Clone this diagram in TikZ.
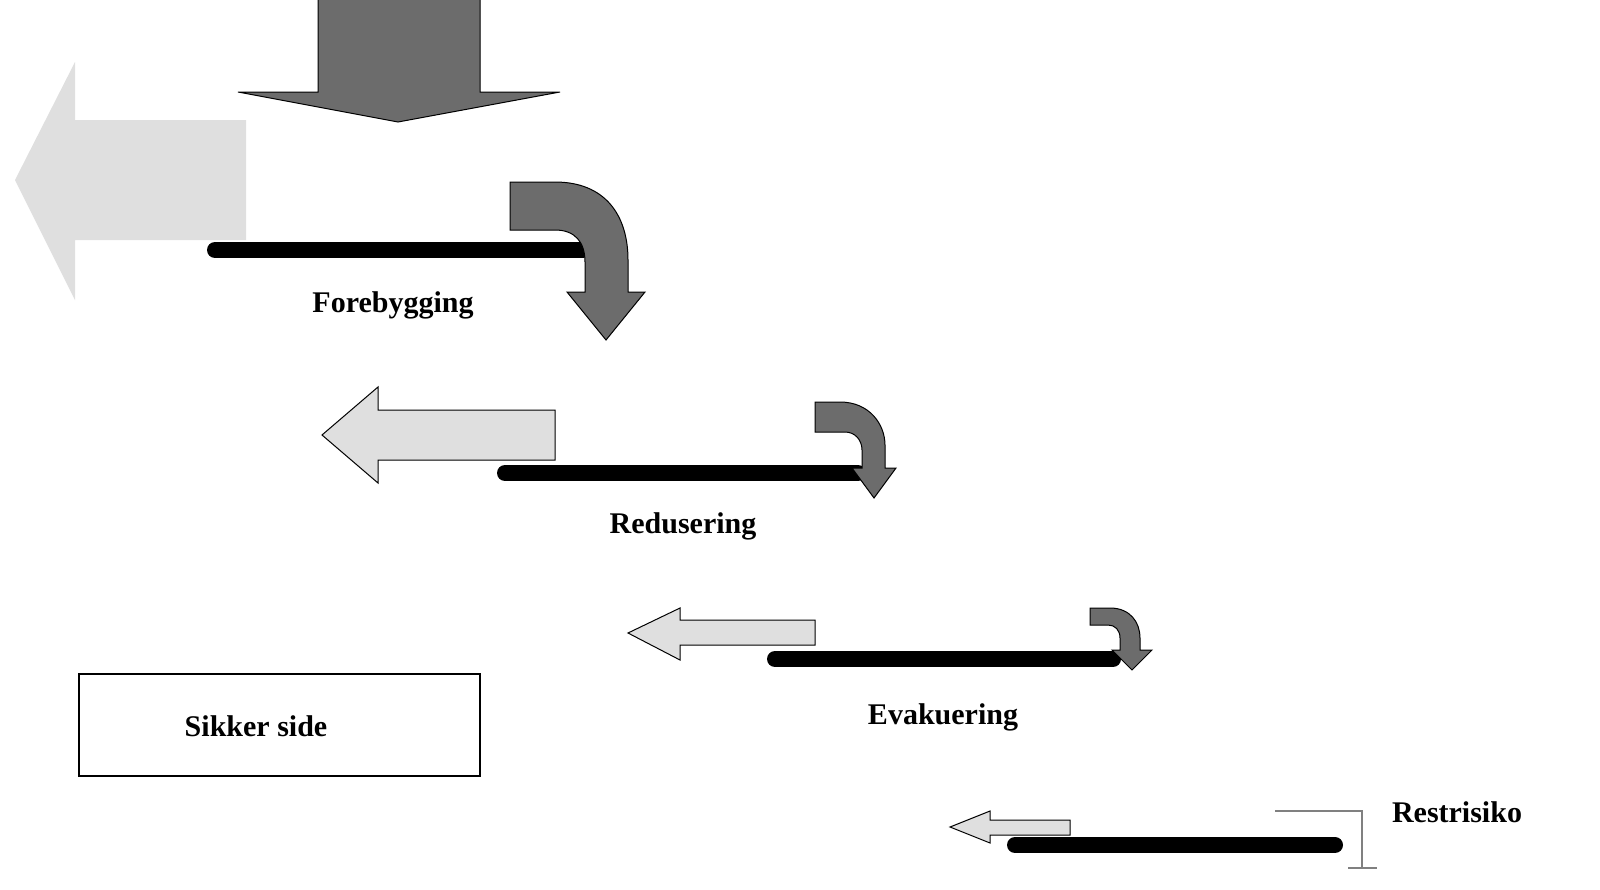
\documentclass[tikz,border=0pt]{standalone}
\usepackage{fontspec}
\setmainfont{Liberation Serif}
\begin{document}
\begin{tikzpicture}[x=1pt,y=-1pt,
    darkarrow/.style={fill=gray!85!black, draw=black, line width=1pt},
    lightarrow/.style={fill=gray!25, draw=black, line width=1pt},
    bar/.style={line width=16pt, line cap=round},
    lbl/.style={font=\fontsize{30}{32}\selectfont\bfseries}]
    \useasboundingbox (0,0) rectangle (1600,889);
    %% top down arrow
    \draw[darkarrow] (318,0) -- (318,92) -- (238,92) -- (398,122) -- (560,92) -- (480,92) -- (480,0);
    %% row 1
    \fill[gray!25] (246,120) -- (75,120) -- (75,62) -- (15,180) -- (75,300) -- (75,240) -- (246,240) -- cycle;
    \coordinate (b1a) at (215,250);
    \coordinate (b1b) at (583,250);
    \draw[bar] (b1a) -- (b1b);
    \draw[darkarrow] (510,182) -- (555,182) .. controls (605,182) and (628,215) .. (628,260) -- (628,292) -- (645,292) -- (606,340) -- (567,292) -- (585,292) -- (585,262) .. controls (585,242) and (575,230) .. (555,230) -- (510,230) -- cycle;
    \node[lbl] (fore) at (393,305) {Forebygging};
    %% row 2
    \draw[lightarrow] (555,410) -- (378,410) -- (378,387) -- (322,435) -- (378,483) -- (378,460) -- (555,460) -- cycle;
    \coordinate (b2a) at (505,473);
    \coordinate (b2b) at (858,473);
    \draw[bar] (b2a) -- (b2b);
    \draw[darkarrow] (815,402) -- (840,402) .. controls (870,402) and (885,425) .. (885,445) -- (885,468) -- (896,468) -- (874,498) -- (852,468) -- (862,468) -- (862,450) .. controls (862,440) and (855,432) .. (845,432) -- (815,432) -- cycle;
    \node[lbl] (redu) at (683,526) {Redusering};
    %% row 3
    \draw[lightarrow] (815,620) -- (680,620) -- (680,608) -- (628,633) -- (680,660) -- (680,645) -- (815,645) -- cycle;
    \coordinate (b3a) at (775,659);
    \coordinate (b3b) at (1113,659);
    \draw[bar] (b3a) -- (b3b);
    \draw[darkarrow] (1090,608) -- (1110,608) .. controls (1130,608) and (1140,622) .. (1140,638) -- (1140,650) -- (1152,650) -- (1132,670) -- (1112,650) -- (1120,650) -- (1120,638) .. controls (1120,630) and (1115,625) .. (1108,625) -- (1090,625) -- cycle;
    \node[lbl] (evak) at (943,717) {Evakuering};
    %% row 4
    \draw[lightarrow] (1070,820) -- (990,820) -- (990,811) -- (950,827) -- (990,843) -- (990,835) -- (1070,835) -- cycle;
    \coordinate (b4a) at (1015,845);
    \coordinate (b4b) at (1335,845);
    \draw[bar] (b4a) -- (b4b);
    \coordinate (r1) at (1275,811);
    \coordinate (r2) at (1362,811);
    \coordinate (r3) at (1362,868);
    \draw[gray, line width=1.5pt] (r1) -- (r2) -- (r3);
    \draw[gray, line width=1.5pt] (1348,868) -- (1377,868);
    \node[lbl] (rest) at (1457,812) {Restrisiko};
    %% safe side box
    \node[draw, line width=1.2pt, minimum width=401pt, minimum height=102pt, lbl] (sikker) at (279.5,725) {};
    \node[lbl] at (256,726) {Sikker side};
\end{tikzpicture}
\end{document}
